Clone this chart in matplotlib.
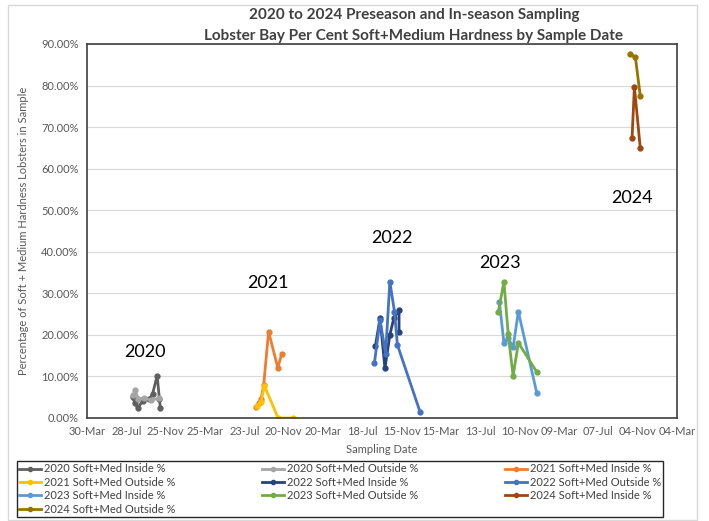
import matplotlib
matplotlib.use("Agg")
import matplotlib.pyplot as plt
import matplotlib.dates as mdates
import matplotlib.ticker as mticker
from matplotlib.patches import Rectangle
import pandas as pd

plt.rcParams['font.family'] = ['Lato', 'DejaVu Sans']

# Sampling dates and percent soft+medium per series
d2020_in = ["2020-08-16", "2020-08-24", "2020-09-01", "2020-09-16", "2020-10-06",
            "2020-10-16", "2020-10-30", "2020-11-06", "2020-11-09"]
v2020_in = [5.0, 3.5, 2.3, 4.2, 4.5, 5.8, 10.2, 4.5, 2.3]
d2020_out = ["2020-08-18", "2020-08-24", "2020-09-02", "2020-09-20", "2020-10-10", "2020-11-06"]
v2020_out = [5.5, 6.8, 4.6, 4.8, 4.3, 4.8]

d2021_in = ["2021-08-28", "2021-09-05", "2021-09-12", "2021-09-20", "2021-10-05",
            "2021-11-02", "2021-11-14"]
v2021_in = [2.7, 3.6, 4.6, 7.9, 20.8, 12.1, 15.4]
d2021_out = ["2021-08-31", "2021-09-12", "2021-09-22", "2021-11-03", "2021-12-18"]
v2021_out = [3.0, 3.8, 7.8, 0.0, 0.0]

d2022_in = ["2022-08-27", "2022-09-10", "2022-09-25", "2022-10-10", "2022-10-22",
            "2022-11-07", "2022-11-07"]
v2022_in = [17.4, 24.0, 12.0, 20.0, 24.0, 26.0, 20.6]
d2022_out = ["2022-08-24", "2022-09-10", "2022-09-27", "2022-10-10", "2022-10-24",
             "2022-11-02", "2023-01-10"]
v2022_out = [13.3, 23.6, 15.5, 32.8, 25.6, 17.6, 1.5]

d2023_in = ["2023-09-09", "2023-09-23", "2023-10-06", "2023-10-21", "2023-11-06", "2024-01-01"]
v2023_in = [28.0, 18.1, 19.2, 17.0, 25.6, 6.1]
d2023_out = ["2023-09-06", "2023-09-23", "2023-10-06", "2023-10-21", "2023-11-06", "2024-01-01"]
v2023_out = [25.6, 32.8, 20.2, 10.1, 18.1, 11.1]

d2024_in = ["2024-10-18", "2024-10-25", "2024-11-12"]
v2024_in = [67.5, 79.7, 64.9]
d2024_out = ["2024-10-12", "2024-10-28", "2024-11-12"]
v2024_out = [87.6, 86.8, 77.5]

series = [
    ("2020 Soft+Med Inside %", d2020_in, v2020_in, "#5f5f5f"),
    ("2020 Soft+Med Outside %", d2020_out, v2020_out, "#a5a5a5"),
    ("2021 Soft+Med Inside %", d2021_in, v2021_in, "#ed7d31"),
    ("2021 Soft+Med Outside %", d2021_out, v2021_out, "#ffc000"),
    ("2022 Soft+Med Inside %", d2022_in, v2022_in, "#264478"),
    ("2022 Soft+Med Outside %", d2022_out, v2022_out, "#4472c4"),
    ("2023 Soft+Med Inside %", d2023_in, v2023_in, "#5b9bd5"),
    ("2023 Soft+Med Outside %", d2023_out, v2023_out, "#70ad47"),
    ("2024 Soft+Med Inside %", d2024_in, v2024_in, "#9e480e"),
    ("2024 Soft+Med Outside %", d2024_out, v2024_out, "#997300"),
]

year_labels = ["2020", "2021", "2022", "2023", "2024"]
year_label_dates = ["2020-09-23", "2021-10-03", "2022-10-16", "2023-09-11", "2024-10-18"]
year_label_pct = [15.9, 32.5, 43.3, 37.3, 52.9]

fig = plt.figure(figsize=(7.09, 5.21), dpi=100)

# faint chart-area frame
fig.patches.append(Rectangle((8 / 709, 1 / 521), 689 / 709, 515 / 521, transform=fig.transFigure,
                             fill=False, edgecolor='#d9d9d9', lw=1))

ax = fig.add_axes([87 / 709, 1 - 418 / 521, 590 / 709, 374 / 521])

handles = []
for name, dates, vals, color in series:
    h, = ax.plot(pd.to_datetime(dates), vals, color=color, lw=2, marker='o',
                 markersize=3.5, label=name)
    handles.append(h)

for txt, d, y in zip(year_labels, year_label_dates, year_label_pct):
    ax.text(pd.Timestamp(d), y, txt, fontsize=13, ha='center', va='center', color='black')

# axes styling
start = pd.Timestamp("2020-03-30")
end = pd.Timestamp("2025-03-04")
ax.set_xlim(start, end)
ax.set_ylim(0, 90)
ticks = pd.date_range(start, end, freq="120D")
ax.set_xticks(ticks)
ax.xaxis.set_major_formatter(mdates.DateFormatter("%d-%b"))
ax.yaxis.set_major_locator(mticker.MultipleLocator(10))
ax.yaxis.set_major_formatter(mticker.FuncFormatter(lambda v, p: f"{v:.2f}%"))
ax.tick_params(length=0, labelsize=8, colors="#595959", pad=6)
ax.grid(axis='y', color='#d9d9d9', lw=0.8)
ax.set_axisbelow(True)
for s in ax.spines.values():
    s.set_color('#404040')
    s.set_linewidth(1.2)

ax.set_xlabel("Sampling Date", fontsize=8, color="#595959", labelpad=5)
ax.set_ylabel("Percentage of Soft + Medium Hardness Lobsters in Sample", fontsize=8,
              color="#595959", labelpad=9)

fig.text(414 / 709, 1 - 15 / 521, "2020 to 2024 Preseason and In-season Sampling",
         ha='center', va='center', fontsize=11, fontweight='bold', color='#404040')
fig.text(414 / 709, 1 - 36 / 521, "Lobster Bay Per Cent Soft+Medium Hardness by Sample Date",
         ha='center', va='center', fontsize=11, fontweight='bold', color='#404040')

# legend filled row by row
order = [0, 3, 6, 9, 1, 4, 7, 2, 5, 8]
leg = fig.legend([handles[i] for i in order], [handles[i].get_label() for i in order],
                 loc='lower left', bbox_to_anchor=(17 / 709, 4 / 521, 646 / 709, 54 / 521),
                 mode='expand', ncol=3, fontsize=8, frameon=True, fancybox=False,
                 edgecolor='#262626', framealpha=1, handlelength=2, handletextpad=0.2,
                 labelspacing=0.22, borderpad=0.2, borderaxespad=0, columnspacing=1.0)
leg.get_frame().set_linewidth(1.0)
for t in leg.get_texts():
    t.set_color('#404040')
for lh in leg.legend_handles:
    lh.set_markersize(3)

fig.savefig("out.png", dpi=100)
